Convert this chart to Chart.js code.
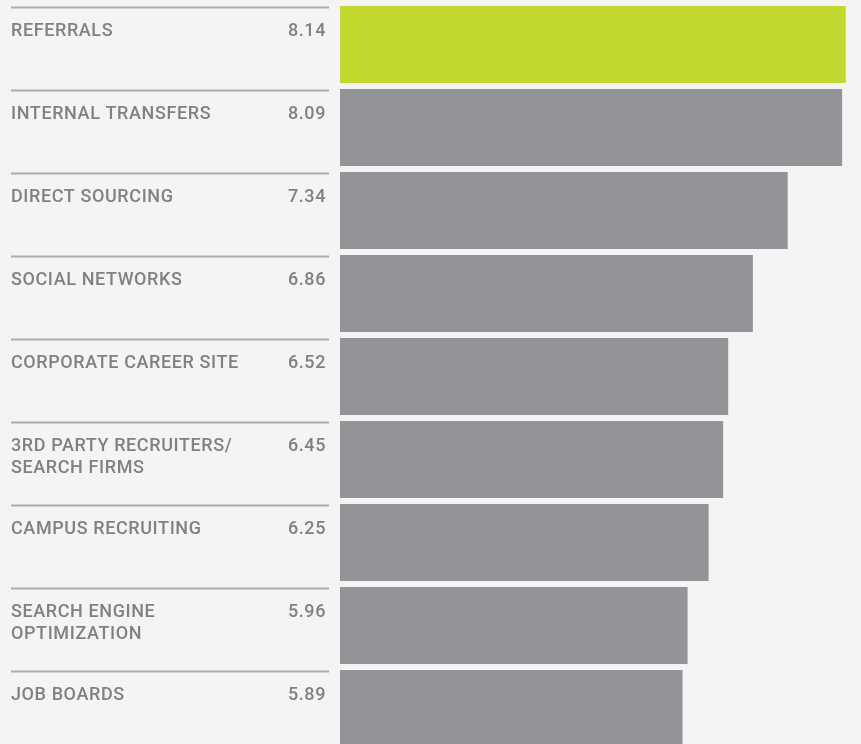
<!DOCTYPE html>
<html>
<head>
<meta charset="utf-8">
<script src="https://cdn.jsdelivr.net/npm/chart.js@4"></script>
<style>
  html, body { margin: 0; padding: 0; background: #f4f4f4; overflow: hidden; }
  canvas { display: block; }
</style>
</head>
<body>
<canvas id="sourceChart" width="861" height="750"></canvas>
<script>
// recruiting sources and their scores
const categories = [
    ['REFERRALS'],
    ['INTERNAL TRANSFERS'],
    ['DIRECT SOURCING'],
    ['SOCIAL NETWORKS'],
    ['CORPORATE CAREER SITE'],
    ['3RD PARTY RECRUITERS/', 'SEARCH FIRMS'],
    ['CAMPUS RECRUITING'],
    ['SEARCH ENGINE', 'OPTIMIZATION'],
    ['JOB BOARDS']
];
const scores = [8.14, 8.09, 7.34, 6.86, 6.52, 6.45, 6.25, 5.96, 5.89];
const valueLabels = ['8.14', '8.09', '7.34', '6.86', '6.52', '6.45', '6.25', '5.96', '5.89'];

const GREEN = '#c2d82f';
const GREY = '#939498';
const TEXT = '#808085';

// left-hand labels, values and separator rules
const rowLabels = {
    id: 'rowLabels',
    afterDatasetsDraw(chart) {
        const ctx = chart.ctx;
        const y = chart.scales.y;
        ctx.save();
        categories.forEach((lines, i) => {
            const c = y.getPixelForValue(i);
            ctx.strokeStyle = '#abacb0';
            ctx.lineWidth = 2;
            ctx.beginPath();
            ctx.moveTo(11, c - 37);
            ctx.lineTo(329, c - 37);
            ctx.stroke();

            ctx.fillStyle = TEXT;
            ctx.font = '500 18px Roboto, "Liberation Sans", sans-serif';
            ctx.letterSpacing = '0.6px';
            ctx.textBaseline = 'alphabetic';
            ctx.textAlign = 'left';
            lines.forEach((t, j) => ctx.fillText(t, 11, c - 9 + j * 22));
            ctx.textAlign = 'right';
            ctx.fillText(valueLabels[i], 326, c - 9);
        });
        ctx.restore();
    }
};

new Chart(document.getElementById('sourceChart').getContext('2d'), {
    type: 'bar',
    data: {
        labels: categories,
        datasets: [{
            data: scores,
            backgroundColor: scores.map((v, i) => i === 0 ? GREEN : GREY),
            borderWidth: 0,
            barPercentage: 0.928,
            categoryPercentage: 1
        }]
    },
    options: {
        indexAxis: 'y',
        responsive: false,
        animation: false,
        layout: { padding: { left: 340, right: 0, top: 3, bottom: 0 } },
        plugins: { legend: { display: false }, tooltip: { enabled: false } },
        scales: {
            x: { display: false, min: 1.17, max: 8.35 },
            y: { display: false }
        }
    },
    plugins: [rowLabels]
});
</script>
</body>
</html>
